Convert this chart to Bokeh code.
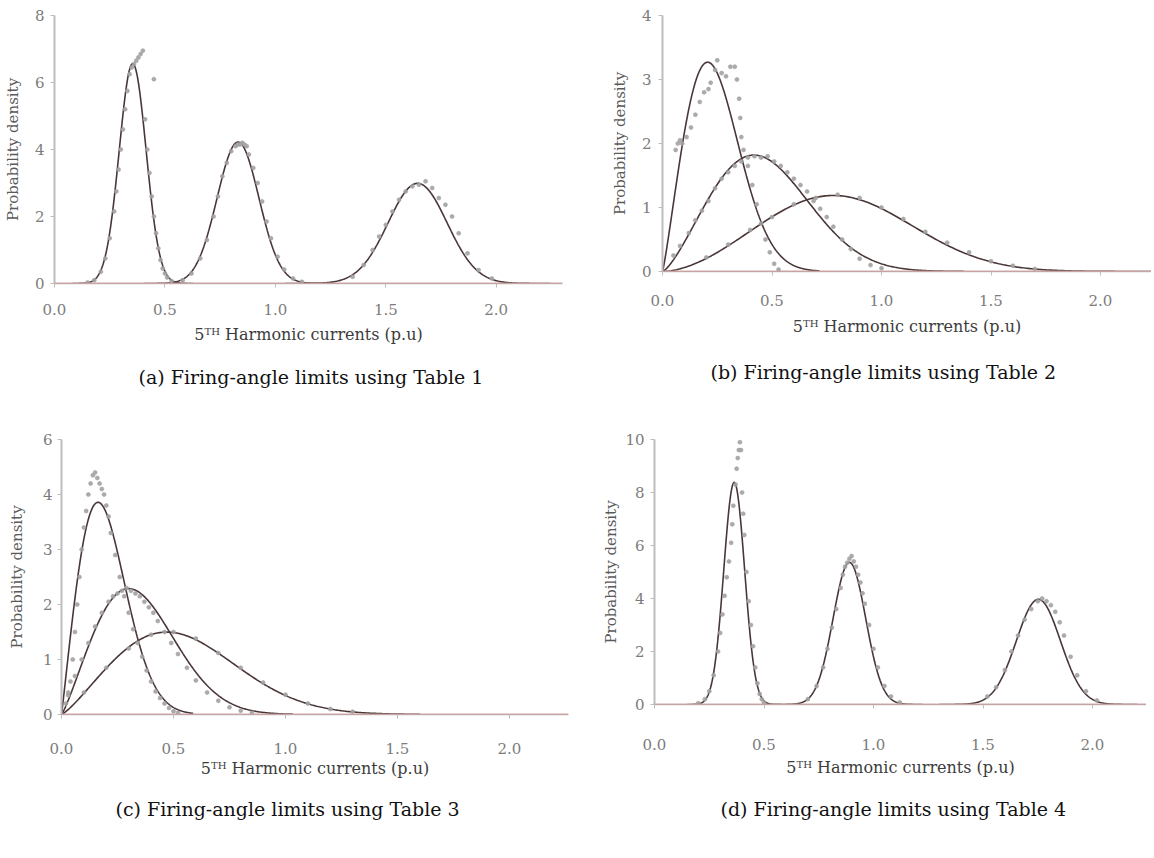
import numpy as np
from bokeh.plotting import figure
from bokeh.models import Range1d, Span, Title, FixedTicker, PrintfTickFormatter
from bokeh.layouts import row, column
from bokeh.embed import file_html
from bokeh.resources import INLINE

# ---------------- data ----------------
X_TICKS = [0.0, 0.5, 1.0, 1.5, 2.0]
X_LABEL = "5ᵀᴴ Harmonic currents (p.u)"
Y_LABEL = "Probability density"
CAPTIONS = ["(a) Firing-angle limits using Table 1",
            "(b) Firing-angle limits using Table 2",
            "(c) Firing-angle limits using Table 3",
            "(d) Firing-angle limits using Table 4"]

A_Y_TICKS = [0, 2, 4, 6, 8]
B_Y_TICKS = [0, 1, 2, 3, 4]
C_Y_TICKS = [0, 1, 2, 3, 4, 5]
C_Y_TICK_LABELS = ["0", "1", "2", "3", "4", "6"]
D_Y_TICKS = [0, 2, 4, 6, 8, 10]

# fitted distributions
A_FIT_MEAN = [0.354, 0.831, 1.644]
A_FIT_SD = [0.0608, 0.0945, 0.1334]
B_FIT_SHAPE = [2.15, 2.35, 2.75]
B_FIT_SCALE = [0.2756, 0.529, 0.9194]
C_FIT_SHAPE = [2.05, 2.18, 2.22]
C_FIT_SCALE = [0.226, 0.3976, 0.6155]
D_FIT_MEAN = [0.364, 0.89, 1.753]
D_FIT_SD = [0.0476, 0.0744, 0.1005]

# simulated histogram points
A_S1_X = [0.15, 0.18, 0.21, 0.23, 0.25, 0.27, 0.28, 0.29, 0.30, 0.31, 0.32, 0.33, 0.34, 0.35, 0.36, 0.37,
          0.38, 0.39, 0.40, 0.41, 0.42, 0.43, 0.44, 0.45, 0.45, 0.46, 0.47, 0.48, 0.49, 0.50, 0.51, 0.53]
A_S1_Y = [0.03, 0.10, 0.35, 0.75, 1.35, 2.15, 2.75, 3.40, 4.00, 4.60, 5.20, 5.75, 6.25, 6.45, 6.55, 6.65,
          6.75, 6.85, 6.95, 4.90, 4.00, 3.30, 2.60, 2.00, 6.10, 1.50, 1.05, 0.70, 0.45, 0.30, 0.18, 0.07]
A_S2_X = [0.58, 0.62, 0.66, 0.69, 0.72, 0.74, 0.76, 0.78, 0.80, 0.82, 0.83, 0.84, 0.85, 0.86, 0.87, 0.88,
          0.90, 0.92, 0.94, 0.96, 0.98, 1.01, 1.04, 1.08, 1.12]
A_S2_Y = [0.10, 0.30, 0.75, 1.30, 2.00, 2.60, 3.20, 3.60, 3.95, 4.10, 4.15, 4.15, 4.20, 4.15, 4.10, 3.85,
          3.45, 3.00, 2.45, 1.85, 1.35, 0.80, 0.42, 0.15, 0.05]
A_S3_X = [1.35, 1.40, 1.44, 1.47, 1.50, 1.53, 1.56, 1.59, 1.62, 1.65, 1.68, 1.71, 1.74, 1.77, 1.80, 1.83,
          1.87, 1.92, 1.98]
A_S3_Y = [0.20, 0.55, 1.00, 1.40, 1.75, 2.15, 2.50, 2.75, 2.90, 2.95, 3.05, 2.85, 2.55, 2.35, 2.00, 1.50,
          0.90, 0.40, 0.15]

B_S1_X = [0.06, 0.07, 0.08, 0.09, 0.11, 0.13, 0.15, 0.17, 0.19, 0.21, 0.22, 0.24, 0.25, 0.27, 0.29, 0.31,
          0.33, 0.34, 0.35, 0.355, 0.36, 0.37, 0.39, 0.41, 0.43, 0.45, 0.47, 0.49, 0.51, 0.53]
B_S1_Y = [1.90, 2.00, 2.05, 2.00, 2.10, 2.25, 2.45, 2.65, 2.80, 2.85, 2.95, 3.15, 3.30, 3.10, 3.05, 3.20,
          3.20, 3.00, 2.70, 2.40, 2.10, 1.90, 1.65, 1.35, 1.05, 0.75, 0.50, 0.30, 0.12, 0.03]
B_S2_X = [0.05, 0.08, 0.12, 0.15, 0.18, 0.21, 0.24, 0.27, 0.30, 0.33, 0.36, 0.39, 0.42, 0.45, 0.48, 0.51,
          0.54, 0.57, 0.60, 0.63, 0.66, 0.69, 0.72, 0.75, 0.78, 0.82, 0.86, 0.90, 0.95, 1.00]
B_S2_Y = [0.25, 0.40, 0.60, 0.80, 0.95, 1.10, 1.30, 1.45, 1.55, 1.65, 1.72, 1.78, 1.80, 1.78, 1.80, 1.72,
          1.65, 1.55, 1.45, 1.35, 1.25, 1.10, 0.98, 0.85, 0.70, 0.50, 0.35, 0.20, 0.10, 0.05]
B_S3_X = [0.20, 0.30, 0.40, 0.50, 0.60, 0.70, 0.80, 0.90, 1.00, 1.10, 1.20, 1.30, 1.40, 1.50, 1.60, 1.70]
B_S3_Y = [0.22, 0.42, 0.65, 0.85, 1.05, 1.15, 1.20, 1.15, 1.00, 0.82, 0.62, 0.45, 0.30, 0.16, 0.09, 0.04]

C_S1_X = [0.02, 0.03, 0.04, 0.05, 0.06, 0.07, 0.08, 0.09, 0.10, 0.11, 0.12, 0.13, 0.14, 0.15, 0.16, 0.17,
          0.18, 0.19, 0.20, 0.21, 0.22, 0.24, 0.26, 0.28, 0.30, 0.32, 0.34, 0.36, 0.38, 0.40, 0.42, 0.44,
          0.46, 0.48, 0.50, 0.52]
C_S1_Y = [0.20, 0.40, 0.60, 1.00, 1.50, 2.00, 2.50, 3.00, 3.40, 3.70, 4.00, 4.20, 4.35, 4.40, 4.30, 4.20,
          4.10, 4.00, 3.80, 3.60, 3.30, 2.90, 2.50, 2.15, 1.85, 1.55, 1.30, 1.05, 0.80, 0.60, 0.42, 0.30,
          0.20, 0.12, 0.06, 0.03]
C_S2_X = [0.03, 0.06, 0.09, 0.12, 0.15, 0.18, 0.21, 0.23, 0.25, 0.27, 0.29, 0.31, 0.33, 0.35, 0.37, 0.39,
          0.41, 0.43, 0.46, 0.49, 0.52, 0.56, 0.60, 0.65, 0.70, 0.75, 0.80, 0.85]
C_S2_Y = [0.35, 0.70, 1.00, 1.30, 1.60, 1.85, 2.05, 2.15, 2.20, 2.25, 2.30, 2.25, 2.20, 2.15, 2.05, 1.95,
          1.85, 1.70, 1.50, 1.30, 1.10, 0.85, 0.62, 0.40, 0.25, 0.13, 0.07, 0.03]
C_S3_X = [0.10, 0.20, 0.30, 0.40, 0.50, 0.60, 0.70, 0.80, 0.90, 1.00, 1.10, 1.20, 1.30]
C_S3_Y = [0.40, 0.85, 1.20, 1.45, 1.50, 1.38, 1.12, 0.85, 0.58, 0.36, 0.20, 0.10, 0.05]

D_S1_X = [0.20, 0.23, 0.25, 0.27, 0.29, 0.30, 0.31, 0.32, 0.33, 0.34, 0.35, 0.355, 0.36, 0.37, 0.375, 0.38,
          0.385, 0.39, 0.395, 0.40, 0.405, 0.41, 0.42, 0.43, 0.44, 0.45, 0.46, 0.47, 0.48, 0.49, 0.50]
D_S1_Y = [0.05, 0.20, 0.50, 1.10, 2.00, 2.70, 3.40, 4.10, 4.80, 5.40, 6.10, 6.80, 7.50, 8.30, 8.90, 9.30,
          9.60, 9.90, 9.60, 8.00, 7.20, 6.40, 5.00, 3.90, 3.00, 2.20, 1.40, 0.80, 0.40, 0.20, 0.08]
D_S2_X = [0.70, 0.74, 0.77, 0.79, 0.81, 0.83, 0.85, 0.86, 0.87, 0.88, 0.89, 0.90, 0.91, 0.92, 0.93, 0.94,
          0.95, 0.96, 0.98, 1.00, 1.02, 1.05, 1.08, 1.12]
D_S2_Y = [0.20, 0.70, 1.40, 2.10, 2.90, 3.60, 4.40, 4.90, 5.20, 5.35, 5.50, 5.60, 5.40, 5.20, 4.90, 4.60,
          4.20, 3.80, 3.00, 2.10, 1.40, 0.70, 0.30, 0.08]
D_S3_X = [1.52, 1.56, 1.60, 1.63, 1.66, 1.69, 1.72, 1.75, 1.77, 1.79, 1.81, 1.83, 1.85, 1.87, 1.90, 1.93,
          1.97, 2.02]
D_S3_Y = [0.30, 0.65, 1.30, 2.00, 2.60, 3.20, 3.60, 3.90, 4.00, 3.90, 3.75, 3.50, 3.10, 2.60, 1.80, 1.10,
          0.50, 0.15]


# ---------------- helpers ----------------
def normal_curve(m, s):
    x = np.linspace(max(0.0, m - 4.5 * s), m + 4.5 * s, 300)
    return x, np.exp(-0.5 * ((x - m) / s) ** 2) / (s * np.sqrt(2 * np.pi))


def weibull_curve(k, lam):
    x = np.linspace(0.0, lam * 2.6, 300)
    r = x / lam
    return x, (k / lam) * r ** (k - 1) * np.exp(-r ** k)


SERIF = "DejaVu Serif"
CURVE_COLOR = "#4a3636"
POINT_COLOR = "#a2a2a2"
AXIS_COLOR = "#bdbdbd"


def build(g, x_end, y_end, y_ticks, y_tick_labels, curves, points, caption):
    p = figure(frame_width=g["fw"], frame_height=g["fh"],
               x_range=Range1d(0, x_end), y_range=Range1d(0, y_end),
               min_border_left=g["bl"], min_border_right=g["br"],
               min_border_top=g["bt"], min_border_bottom=g["bb"],
               toolbar_location=None, output_backend="svg")
    p.outline_line_color = None
    p.grid.visible = False
    p.background_fill_color = "white"
    p.border_fill_color = "white"

    xa = p.xaxis[0]
    xa.ticker = FixedTicker(ticks=X_TICKS)
    xa.formatter = PrintfTickFormatter(format="%.1f")
    xa.axis_line_color = AXIS_COLOR
    xa.axis_line_width = 1.5
    xa.major_tick_line_color = AXIS_COLOR
    xa.major_tick_out = 4
    xa.major_tick_in = 0
    xa.minor_tick_line_color = None
    xa.major_label_text_font = SERIF
    xa.major_label_text_font_size = "15px"
    xa.major_label_text_color = "#7c7c7c"
    xa.major_label_standoff = g["xls"]
    xa.axis_label = X_LABEL
    xa.axis_label_text_font = SERIF
    xa.axis_label_text_font_size = "16px"
    xa.axis_label_text_font_style = "normal"
    xa.axis_label_text_color = "#3c3c3c"
    xa.axis_label_standoff = g["xas"]

    ya = p.yaxis[0]
    ya.ticker = FixedTicker(ticks=y_ticks)
    ya.major_label_overrides = {t: lab for t, lab in zip(y_ticks, y_tick_labels)}
    ya.axis_line_color = AXIS_COLOR
    ya.axis_line_width = 2
    ya.major_tick_line_color = AXIS_COLOR
    ya.major_tick_out = 4
    ya.major_tick_in = 0
    ya.minor_tick_line_color = None
    ya.major_label_text_font = SERIF
    ya.major_label_text_font_size = "15px"
    ya.major_label_text_color = "#7c7c7c"
    ya.major_label_standoff = g["yls"]
    ya.axis_label = Y_LABEL
    ya.axis_label_text_font = SERIF
    ya.axis_label_text_font_size = "15px"
    ya.axis_label_text_font_style = "normal"
    ya.axis_label_text_color = "#5a5a5a"
    ya.axis_label_standoff = g["yas"]

    p.add_layout(Span(location=0, dimension="width", line_color="#d48a8a", line_width=1.3))

    for cx, cy in curves:
        p.line(cx, cy, line_color=CURVE_COLOR, line_width=1.6)
    for px_, py_ in points:
        p.scatter(px_, py_, size=4, marker="circle", fill_color=POINT_COLOR,
                  line_color=POINT_COLOR, line_alpha=0.6, fill_alpha=0.9)

    p.add_layout(Title(text=caption, align="left", offset=g["cap_off"], standoff=g["cap_so"],
                       text_font=SERIF, text_font_size="19px", text_font_style="normal",
                       text_color="#111111"), "below")
    return p


# frame size, minimum borders, standoffs, caption offset/standoff
GEOM_A = dict(fw=508, fh=268, bl=49, br=35, bt=7, bb=142, xls=16, xas=7, yls=6, yas=10, cap_off=84, cap_so=35)
GEOM_B = dict(fw=489, fh=256, bl=65, br=0, bt=15, bb=146, xls=19, xas=8, yls=7, yas=10, cap_off=48, cap_so=40)
GEOM_C = dict(fw=507, fh=275, bl=61, br=24, bt=22, bb=128, xls=24, xas=2, yls=5, yas=14, cap_off=54, cap_so=31)
GEOM_D = dict(fw=492, fh=265, bl=62, br=0, bt=22, bb=138, xls=30, xas=5, yls=6, yas=2, cap_off=66, cap_so=32)

pa = build(GEOM_A, 2.3, 8, A_Y_TICKS, [str(t) for t in A_Y_TICKS],
           [normal_curve(m, s) for m, s in zip(A_FIT_MEAN, A_FIT_SD)],
           [(A_S1_X, A_S1_Y), (A_S2_X, A_S2_Y), (A_S3_X, A_S3_Y)], CAPTIONS[0])
pb = build(GEOM_B, 489 / 219, 4, B_Y_TICKS, [str(t) for t in B_Y_TICKS],
           [weibull_curve(k, l) for k, l in zip(B_FIT_SHAPE, B_FIT_SCALE)],
           [(B_S1_X, B_S1_Y), (B_S2_X, B_S2_Y), (B_S3_X, B_S3_Y)], CAPTIONS[1])
pc = build(GEOM_C, 507 / 224, 5, C_Y_TICKS, C_Y_TICK_LABELS,
           [weibull_curve(k, l) for k, l in zip(C_FIT_SHAPE, C_FIT_SCALE)],
           [(C_S1_X, C_S1_Y), (C_S2_X, C_S2_Y), (C_S3_X, C_S3_Y)], CAPTIONS[2])
pd_ = build(GEOM_D, 492 / 219, 10, D_Y_TICKS, [str(t) for t in D_Y_TICKS],
            [normal_curve(m, s) for m, s in zip(D_FIT_MEAN, D_FIT_SD)],
            [(D_S1_X, D_S1_Y), (D_S2_X, D_S2_Y), (D_S3_X, D_S3_Y)], CAPTIONS[3])

layout = column(row(pa, pb), row(pc, pd_))
open("out.html", "w").write(file_html(layout, INLINE))
